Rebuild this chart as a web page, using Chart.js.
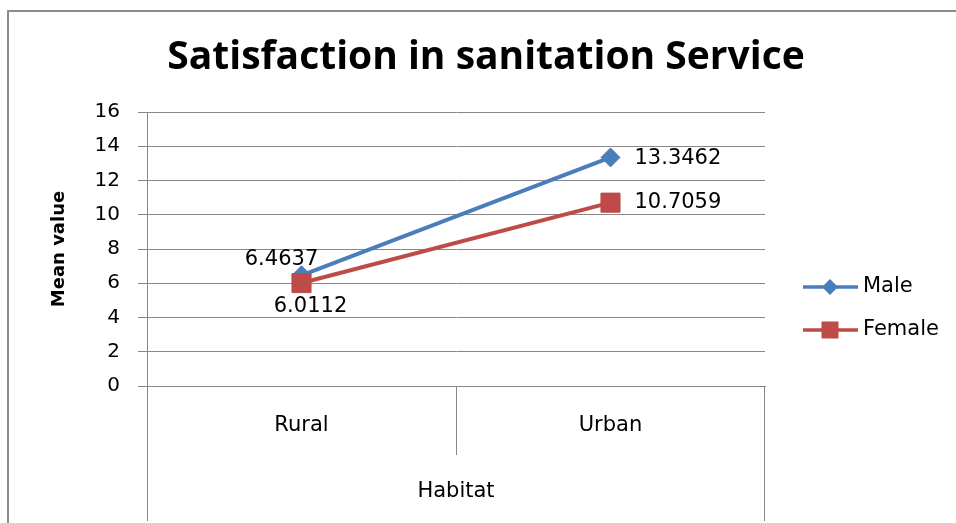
<!DOCTYPE html>
<html><head><meta charset="utf-8">
<script src="https://cdn.jsdelivr.net/npm/chart.js@4"></script>
<style>html,body{margin:0;padding:0;background:#fff}#wrap{width:956px;height:523px;position:relative}</style>
</head><body><div id="wrap"><canvas id="c"></canvas></div>
<script>
// ---- data ----
const categories = ['Rural', 'Urban'];
const seriesNames = ['Male', 'Female'];
const maleValues = [6.4637, 13.3462];
const femaleValues = [6.0112, 10.7059];
const yMin = 0, yMax = 16, yStep = 2;
const chartTitle = 'Satisfaction in sanitation Service';
const yTitle = 'Mean value';
const xTitle = 'Habitat';

// ---- styles ----
const BLUE = '#4a7ebb', RED = '#be4b48', GRID = '#888888', TEXT = '#000000';
const FONT = "'DejaVu Sans', sans-serif";
const labelPlacement = [
  [{dx: -20, dy: -16, align: 'center'}, {dx: 24, dy: 1, align: 'left'}],
  [{dx: 9, dy: 23, align: 'center'}, {dx: 24, dy: 0, align: 'left'}]
];
const legendRows = [287, 330];

const decor = {
  id: 'decor',
  beforeDraw(chart) {
    const ctx = chart.ctx;
    ctx.save();
    ctx.strokeStyle = '#8c8c8c'; ctx.lineWidth = 2;
    ctx.beginPath(); ctx.moveTo(8, chart.height); ctx.lineTo(8, 11); ctx.lineTo(chart.width, 11); ctx.stroke();
    ctx.restore();
  },
  afterDatasetsDraw(chart) {
    const ctx = chart.ctx;
    ctx.save();
    ctx.font = "21px " + FONT; ctx.fillStyle = TEXT; ctx.textBaseline = 'middle';
    chart.data.datasets.forEach((ds, i) => {
      const meta = chart.getDatasetMeta(i);
      meta.data.forEach((pt, j) => {
        const p = labelPlacement[i][j];
        ctx.textAlign = p.align;
        ctx.fillText(String(ds.data[j]), pt.x + p.dx, pt.y + p.dy);
      });
    });
    ctx.restore();
  },
  afterDraw(chart) {
    const ctx = chart.ctx, a = chart.chartArea, x = chart.scales.x;
    ctx.save();
    ctx.strokeStyle = GRID; ctx.lineWidth = 1;
    const l = Math.round(a.left) + 0.5, r = Math.round(a.right) - 0.5;
    const m = Math.round(x.getPixelForValue(0.5)) + 0.5;
    const b = Math.round(a.bottom);
    ctx.beginPath();
    ctx.moveTo(l, b); ctx.lineTo(l, 521);
    ctx.moveTo(r, b); ctx.lineTo(r, 521);
    ctx.moveTo(m, b); ctx.lineTo(m, 455);
    ctx.stroke();
    // legend
    chart.data.datasets.forEach((ds, i) => {
      const y = legendRows[i];
      ctx.strokeStyle = ds.borderColor; ctx.fillStyle = ds.borderColor; ctx.lineWidth = 3.5;
      ctx.beginPath(); ctx.moveTo(803, y); ctx.lineTo(858, y); ctx.stroke();
      ctx.beginPath();
      if (ds.pointStyle === 'rectRot') {
        ctx.moveTo(830, y - 8); ctx.lineTo(838, y); ctx.lineTo(830, y + 8); ctx.lineTo(822, y); ctx.closePath();
      } else {
        ctx.rect(821.5, y - 8.5, 17, 17);
      }
      ctx.fill();
      ctx.fillStyle = TEXT; ctx.font = "21px " + FONT; ctx.textAlign = 'left'; ctx.textBaseline = 'middle';
      ctx.fillText(ds.label, 863, y);
    });
    ctx.restore();
  }
};

new Chart(document.getElementById('c'), {
  type: 'line',
  data: {
    labels: categories,
    datasets: [
      {label: seriesNames[0], data: maleValues, borderColor: BLUE, backgroundColor: BLUE, borderWidth: 4,
       pointStyle: 'rectRot', pointRadius: 9.5, pointBorderWidth: 1, pointBorderColor: BLUE, pointBackgroundColor: BLUE, order: 1, tension: 0},
      {label: seriesNames[1], data: femaleValues, borderColor: RED, backgroundColor: RED, borderWidth: 4,
       pointStyle: 'rect', pointRadius: 13.5, pointBorderWidth: 1, pointBorderColor: RED, pointBackgroundColor: RED, order: 0, tension: 0}
    ]
  },
  options: {
    responsive: true, maintainAspectRatio: false, animation: false, events: [],
    layout: {padding: {left: 16, right: 0, top: 0, bottom: 0}},
    plugins: {
      legend: {display: false}, tooltip: {enabled: false},
      title: {display: true, text: chartTitle, color: TEXT,
        font: {family: "'Open Sans', 'DejaVu Sans', sans-serif", size: 39, weight: 'bold', lineHeight: 1.2},
        padding: {top: 34, bottom: 31.2}}
    },
    scales: {
      x: {
        type: 'category', offset: true,
        grid: {display: false, drawTicks: false},
        border: {display: true, color: GRID, width: 1},
        ticks: {color: TEXT, padding: 27, font: {family: FONT, size: 21}},
        title: {display: true, text: xTitle, color: TEXT, font: {family: FONT, size: 21}, padding: {top: 0, bottom: 19}},
        afterFit(s) { s.height = 137; }
      },
      y: {
        min: yMin, max: yMax,
        ticks: {stepSize: yStep, color: TEXT, padding: 18, font: {family: FONT, size: 20}},
        grid: {color: GRID, lineWidth: 1, tickLength: 9, drawTicks: true},
        border: {display: true, color: GRID, width: 1},
        title: {display: true, text: yTitle, color: TEXT, font: {family: FONT, size: 18, weight: 'bold'}, padding: {top: 33, bottom: 0}},
        afterFit(s) { s.width = 131; }
      },
      yR: {
        position: 'right', display: true, min: 0, max: 1,
        grid: {display: false, drawTicks: false}, border: {display: false}, ticks: {display: false},
        afterFit(s) { s.width = 191; }
      }
    }
  },
  plugins: [decor]
});
</script>
</body></html>
